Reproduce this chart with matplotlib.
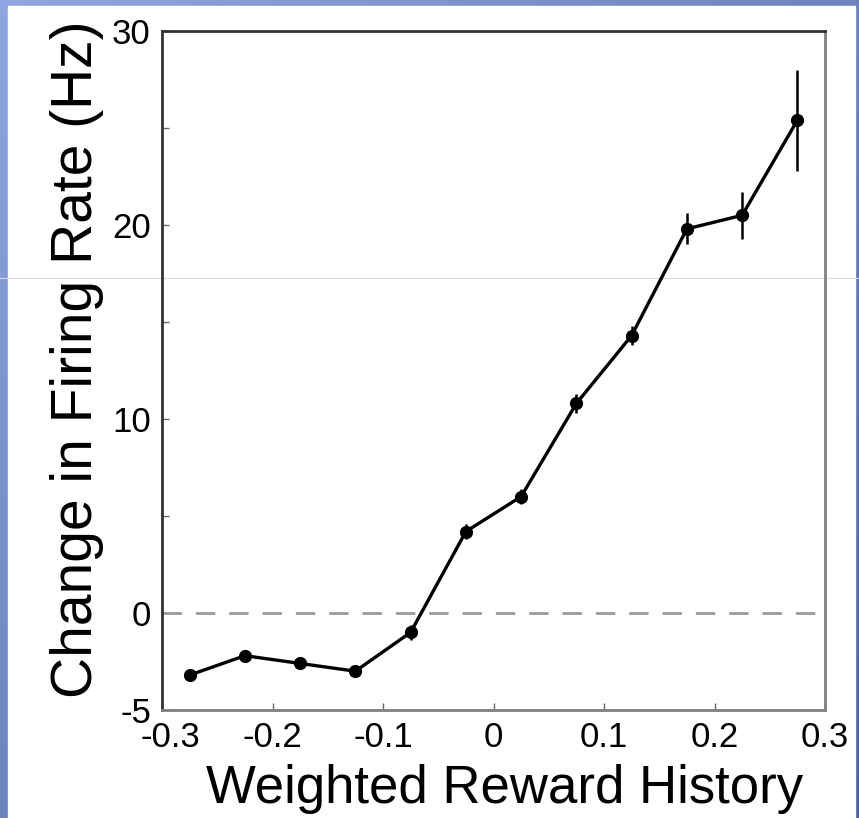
import numpy as np
import matplotlib.pyplot as plt
import matplotlib.transforms as mtransforms

# data
reward_history = [-0.275, -0.225, -0.175, -0.125, -0.075, -0.025,
                  0.025, 0.075, 0.125, 0.175, 0.225, 0.275]
rate_change = [-3.2, -2.2, -2.6, -3.0, -1.0, 4.2,
               6.0, 10.8, 14.3, 19.8, 20.5, 25.4]
rate_sem = [0.3, 0.3, 0.3, 0.3, 0.4, 0.4,
            0.4, 0.5, 0.5, 0.8, 1.2, 2.6]

x_ticks = [-0.3, -0.2, -0.1, 0, 0.1, 0.2, 0.3]
x_ticklabels = ["-0.3", "-0.2", "-0.1", "0", "0.1", "0.2", "0.3"]
y_ticks = [-5, 0, 5, 10, 15, 20, 25, 30]
y_ticklabels = ["-5", "0", "", "10", "", "20", "", "30"]

plt.rcParams["font.family"] = ["Liberation Sans", "DejaVu Sans"]

W, H = 859, 818
fig = plt.figure(figsize=(W / 100, H / 100), dpi=100)

# slide background: blue gradient frame with white card
bg = fig.add_axes([0, 0, 1, 1], zorder=-10)
gx, gy = np.meshgrid(np.linspace(0, 1, 200), np.linspace(0, 1, 200))
t = 0.5 * gx + 0.5 * gy
c0 = np.array([0.56, 0.65, 0.88])
c1 = np.array([0.30, 0.38, 0.60])
grad = c0[None, None, :] * (1 - t[..., None]) + c1[None, None, :] * t[..., None]
bg.imshow(grad, extent=[0, 1, 1, 0], aspect="auto")
bg.add_patch(plt.Rectangle((8 / W, 6 / H), (855 - 8) / W, 1,
                           transform=bg.transData, color="white"))
bg.axhline(278 / H, color="#d4d9e2", lw=0.8)
bg.set_xlim(0, 1)
bg.set_ylim(1, 0)
bg.axis("off")

ax = fig.add_axes([162 / W, 108 / H, (825 - 162) / W, (710 - 31) / H])
ax.set_facecolor("none")

ax.axhline(0, color="#9a9a9a", lw=2, dashes=(7, 5))
ax.errorbar(reward_history, rate_change, yerr=rate_sem, color="black",
            lw=2.4, marker="o", markersize=8.5, elinewidth=1.8, capsize=0)

ax.set_xlim(-0.3, 0.3)
ax.set_ylim(-5, 30)
ax.set_xticks(x_ticks)
ax.set_xticklabels(x_ticklabels)
ax.set_yticks(y_ticks)
ax.set_yticklabels(y_ticklabels)
ax.tick_params(direction="in", length=5, width=1, labelsize=25, pad=8,
               color="#666666")
# first x label is nudged right in the original, clear of the "-5"
lbl = ax.get_xticklabels()[0]
lbl.set_transform(lbl.get_transform() +
                  mtransforms.ScaledTranslation(8 / 100, 0, fig.dpi_scale_trans))

for side in ["left", "top"]:
    ax.spines[side].set_color("#333333")
    ax.spines[side].set_linewidth(2)
for side in ["right", "bottom"]:
    ax.spines[side].set_color("#808080")
    ax.spines[side].set_linewidth(2)

ax.set_xlabel("Weighted Reward History", fontsize=38)
ax.set_ylabel("Change in Firing Rate (Hz)", fontsize=41)
ax.xaxis.set_label_coords(0.516, -0.080)
ax.yaxis.set_label_coords(-0.088, 0.517)

fig.savefig("out.png", dpi=100)
